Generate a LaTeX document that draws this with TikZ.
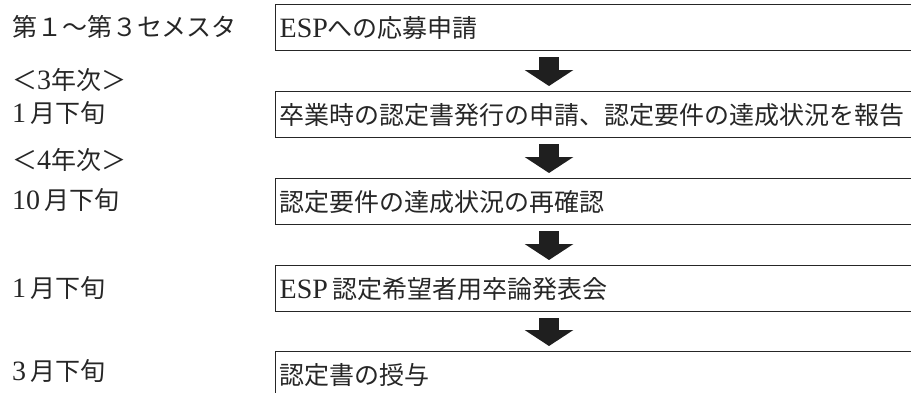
\documentclass[tikz,border=0pt]{standalone}
\usepackage{fontspec}
\setmainfont{Liberation Serif}[Scale=1.12]
\newfontfamily\cjk{Noto Sans CJK JP}[Scale=1.0]
\usetikzlibrary{arrows.meta,calc}
\newcommand{\jpt}[1]{{\cjk #1}}
\tikzset{
  every node/.style={font=\fontsize{25}{29}\selectfont, inner sep=0pt},
  stepbox/.style={draw=black!85, line width=1.3pt, anchor=north west,
    minimum width=660pt, minimum height=46pt, text width=656pt,
    align=left, inner xsep=4pt, text=black!85},
  datelabel/.style={anchor=west, text=black!85},
  blockarrow/.style={line width=20pt, draw=black!88,
    -{Triangle[width=48pt,length=16pt]}},
}
\begin{document}
\begin{tikzpicture}[x=1pt,y=-1pt]
\useasboundingbox (0,0) rectangle (911,392);
\clip (0,0) rectangle (911,392);
% boxes
\node[stepbox] (b1) at (275,4) {ESP\jpt{への応募申請}};
\node[stepbox] (b2) at (275,91) {\jpt{卒業時の認定書発行の申請、認定要件の達成状況を報告}};
\node[stepbox] (b3) at (275,178) {\jpt{認定要件の達成状況の再確認}};
\node[stepbox] (b4) at (275,265) {ESP\,\jpt{認定希望者用卒論発表会}};
\node[stepbox] (b5) at (275,351) {\jpt{認定書の授与}};
% labels
\node[datelabel] (l1) at (12,27) {\jpt{第１～第３セメスタ}};
\node[datelabel] (l2a) at (12,80) {\jpt{＜}3\jpt{年次＞}};
\node[datelabel] (l2) at (12,113) {1\,\jpt{月下旬}};
\node[datelabel] (l3a) at (12,160) {\jpt{＜}4\jpt{年次＞}};
\node[datelabel] (l3) at (12,200) {10\,\jpt{月下旬}};
\node[datelabel] (l4) at (12,288) {1\,\jpt{月下旬}};
\node[datelabel] (l5) at (12,371) {3\,\jpt{月下旬}};
% arrows
\foreach \a/\b in {b1/b2,b2/b3,b3/b4,b4/b5}{
  \draw[blockarrow] ([xshift=274pt,yshift=-6pt]\a.south west) -- ([xshift=274pt,yshift=5pt]\b.north west);
}
\end{tikzpicture}
\end{document}
